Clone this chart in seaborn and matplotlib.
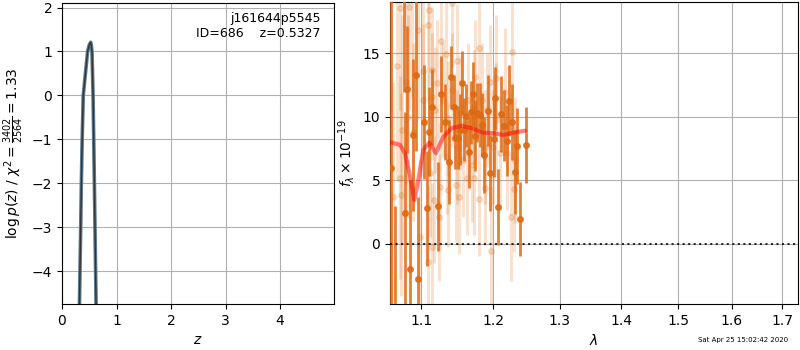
import numpy as np
import pandas as pd
import matplotlib
matplotlib.use('Agg')
import matplotlib.pyplot as plt
from matplotlib.ticker import NullLocator
import seaborn as sns

# p(z) curve
pz_z = [0.28, 0.32, 0.343, 0.355, 0.37, 0.39, 0.43, 0.47, 0.50, 0.527, 0.54, 0.55, 0.57, 0.594, 0.625, 0.66]
pz_logp = [-7.0, -4.75, -3.0, -2.0, -1.0, 0.0, 0.5, 1.0, 1.15, 1.21, 1.12, 1.0, 0.0, -2.0, -4.75, -7.0]

# spectrum, good pixels
good_wave = [1.0820, 1.0934, 1.0898, 1.0792, 1.0855, 1.0964, 1.1044, 1.1084, 1.1111, 1.1151,
             1.1232, 1.1264, 1.1382, 1.1405, 1.1464, 1.1497, 1.1529, 1.1561, 1.1613, 1.1680,
             1.1741, 1.1773, 1.1811, 1.1873, 1.1954, 1.2026, 1.2070, 1.2157, 1.2198, 1.2236,
             1.2276, 1.2325, 1.2350, 1.2399, 1.2485, 1.1325, 1.1440, 1.1590, 1.1650, 1.1710,
             1.1845, 1.1925, 1.2110, 1.2010, 1.0660, 1.0610, 1.0770]
good_flux = [12.18, 13.28, 8.58, 2.42, -1.99, -2.78, 9.58, 2.79, 8.84, 10.76,
             2.97, 11.79, 6.48, 13.13, 8.37, 8.37, 8.98, 12.68, 10.10, 10.37,
             8.53, 10.34, 10.16, 7.01, 5.57, 11.47, 2.89, 9.32, 8.13, 11.28,
             9.61, 5.67, 7.72, 1.97, 7.80, 9.60, 10.80, 9.00, 7.20, 11.80,
             9.40, 10.50, 10.20, 8.30, -7.0, 6.0, 21.0]
good_err = [5.0, 6.0, 6.0, 8.0, 7.0, 6.5, 4.5, 4.5, 3.5, 3.0,
            3.5, 3.0, 3.3, 2.5, 2.5, 2.5, 2.8, 2.5, 2.5, 2.5,
            2.8, 2.3, 2.5, 3.0, 3.0, 2.5, 3.0, 2.8, 2.8, 2.8,
            3.0, 3.3, 3.0, 2.9, 3.0, 3.0, 2.5, 2.5, 2.8, 2.5,
            2.5, 2.8, 3.0, 3.0, 10.0, 16.0, 9.0]

# spectrum, down-weighted pixels
weak_wave = [1.0725, 1.0846, 1.1106, 1.1097, 1.0957, 1.1267, 1.1151, 1.1030, 1.0802, 1.1334,
             1.1490, 1.1415, 1.1796, 1.1737, 1.1954, 1.2036, 1.2280, 1.2176, 1.0725, 1.0740,
             1.0987, 1.1089, 1.1142, 1.1177, 1.1244, 1.1368, 1.1472, 1.1509, 1.1623, 1.1731,
             1.1800, 1.1883, 1.1973, 1.2262, 1.2309, 1.0898, 1.1030, 1.1153, 1.1184, 1.1300,
             1.1368, 1.1346, 1.1483, 1.1574, 1.1644, 1.1727, 1.1835, 1.1907, 1.1990, 1.2047,
             1.2093, 1.2198, 1.2320, 1.0825, 1.1124, 1.1260, 1.1693, 1.1880, 1.1529, 1.1209,
             1.1415, 1.0632, 1.0690, 1.0750, 1.0880]
weak_flux = [18.56, 18.64, 18.43, 17.24, 16.85, 15.96, 13.70, 13.60, 12.73, 14.94,
             14.41, 18.95, 15.41, 13.17, 12.78, 13.05, 15.14, 11.99, 5.22, 3.86,
             0.57, -1.39, -0.21, 3.46, 2.10, 4.25, 4.65, 3.68, 5.17, 5.22,
             3.52, 4.39, -0.55, 2.10, 4.33, 8.84, 11.34, 11.60, 10.55, 11.34,
             9.90, 6.87, 7.66, 6.61, 11.34, 10.81, 11.34, 10.55, 7.66, 9.76,
             7.14, 7.14, 6.61, 10.02, 5.57, 4.51, 6.22, 7.66, 10.29, 12.65,
             12.13, 3.72, 14.0, 9.0, 20.5]
weak_err = [8.0, 8.0, 6.0, 6.0, 7.0, 5.0, 5.0, 6.0, 8.0, 5.0,
            4.5, 5.0, 4.5, 4.5, 4.5, 5.0, 5.0, 5.0, 8.0, 8.0,
            6.0, 6.0, 5.0, 5.0, 5.0, 4.5, 4.5, 4.5, 4.5, 4.5,
            4.5, 4.5, 5.0, 5.0, 5.0, 7.0, 6.0, 5.0, 5.0, 4.5,
            4.5, 4.5, 4.5, 4.5, 4.5, 4.5, 4.5, 4.5, 4.5, 4.5,
            4.5, 4.5, 5.0, 8.0, 5.0, 5.0, 4.5, 4.5, 4.5, 5.0,
            4.5, 9.0, 9.0, 9.0, 9.0]

# best-fit model
model_wave = [1.0600, 1.0632, 1.0725, 1.0790, 1.0855, 1.0912, 1.0964, 1.1030, 1.1111, 1.1200,
              1.1300, 1.1415, 1.1553, 1.1693, 1.1857, 1.2001, 1.2147, 1.2295, 1.2470]
model_flux = [8.00, 7.95, 7.80, 7.14, 5.30, 3.46, 5.04, 7.40, 7.98, 7.14,
              8.45, 9.11, 9.31, 9.11, 8.76, 8.72, 8.58, 8.76, 8.92]

xtick_vals = [1.1, 1.2, 1.3, 1.4, 1.5, 1.6, 1.7]
xtick_labels = ['1.1', '1.2', '1.3', '1.4', '1.5', '1.6', '1.7']

sns.set_style('ticks')
plt.rcParams['font.family'] = ['DejaVu Sans']
plt.rcParams['axes.edgecolor'] = 'black'
plt.rcParams['xtick.color'] = 'black'
plt.rcParams['ytick.color'] = 'black'
plt.rcParams['text.color'] = 'black'
plt.rcParams['axes.labelcolor'] = 'black'

fig = plt.figure(figsize=(8, 3.5), dpi=100)
ax1 = fig.add_axes([0.0775, 0.131, 0.34, 0.860])
ax2 = fig.add_axes([0.4875, 0.131, 0.510, 0.863])

pz = pd.DataFrame({'z': pz_z, 'logp': pz_logp})
sns.lineplot(data=pz, x='z', y='logp', ax=ax1, color='#5c7a90', linewidth=2.6, sort=False)
sns.lineplot(data=pz, x='z', y='logp', ax=ax1, color='#333333', linewidth=1.0, sort=False)
ax1.set_xlim(0, 4.99)
ax1.set_ylim(-4.75, 2.1)
ax1.set_xticks([0, 1, 2, 3, 4])
ax1.set_yticks([-4, -3, -2, -1, 0, 1, 2])
ax1.grid(True, color='#b0b0b0', linewidth=0.8)
ax1.set_xlabel('$z$')
ax1.set_ylabel(r'$\log p(z)$ / $\chi^2=\frac{3402}{2564}=1.33$')
ax1.text(0.95, 0.97, 'j161644p5545\nID=686    z=0.5327', transform=ax1.transAxes,
         ha='right', va='top', fontsize=9)

orange = '#dd6a12'
ax2.errorbar(weak_wave, weak_flux, yerr=weak_err, fmt='o', color=orange, alpha=0.2,
             ms=4, elinewidth=2.2, capsize=0, zorder=2)
ax2.errorbar(good_wave, good_flux, yerr=good_err, fmt='o', color=orange, alpha=0.85,
             ms=4, elinewidth=2.0, capsize=0, zorder=3)
model = pd.DataFrame({'wave': model_wave, 'flux': model_flux})
sns.lineplot(data=model, x='wave', y='flux', ax=ax2, color='red', linewidth=3, alpha=0.5, zorder=4)
ax2.axhline(0, color='black', linestyle=':', linewidth=1.5, alpha=0.8, zorder=5)
ax2.set_xscale('log')
ax2.set_xlim(1.0596, 1.733)
ax2.set_ylim(-4.75, 19.05)
ax2.set_xticks(xtick_vals)
ax2.set_xticklabels(xtick_labels)
ax2.xaxis.set_minor_locator(NullLocator())
ax2.set_yticks([0, 5, 10, 15])
ax2.grid(True, color='#b0b0b0', linewidth=0.8)
ax2.set_xlabel(r'$\lambda$')
ax2.set_ylabel(r'$f_\lambda \times 10^{-19}$')

fig.text(0.985, 0.029, 'Sat Apr 25 15:02:42 2020', ha='right', va='center', fontsize=5)

fig.savefig('out.png', dpi=100)
